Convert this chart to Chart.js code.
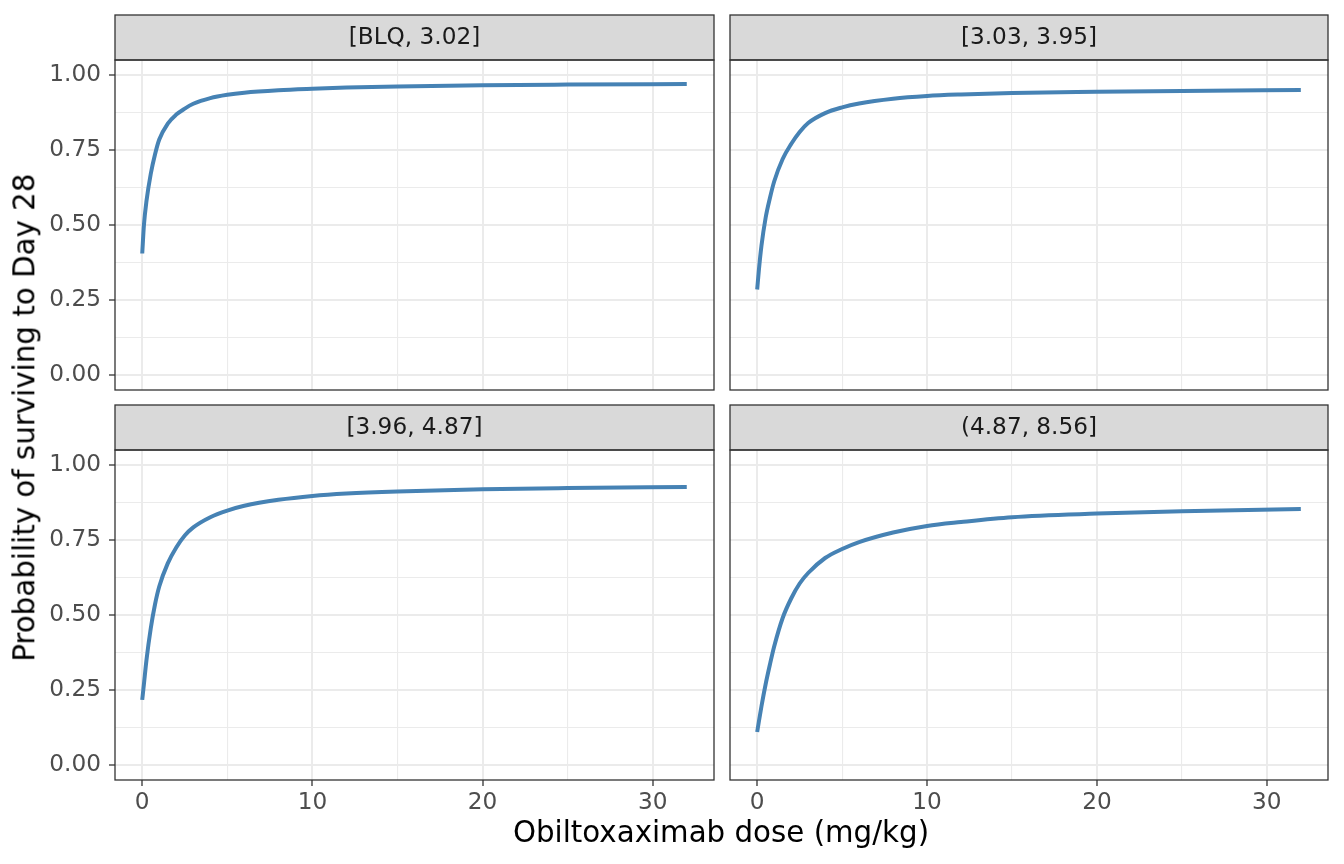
<!DOCTYPE html>
<html>
<head>
<meta charset="utf-8">
<script src="https://cdn.jsdelivr.net/npm/chart.js@4.4.1/dist/chart.umd.min.js"></script>
<style>
  body { margin: 0; background: #fff; width: 1344px; height: 864px; overflow: hidden; position: relative; font-family: "DejaVu Sans", sans-serif; }
  canvas { position: absolute; }
  .title { position: absolute; font-size: 29.3px; line-height: 29.3px; height: 29.3px; color: #000; white-space: nowrap; text-align: center; }
</style>
</head>
<body>
<canvas id="p1" width="722" height="397" style="left:0;top:0"></canvas>
<canvas id="p2" width="622" height="397" style="left:722px;top:0"></canvas>
<canvas id="p3" width="722" height="467" style="left:0;top:397px"></canvas>
<canvas id="p4" width="622" height="467" style="left:722px;top:397px"></canvas>
<div class="title" id="xTitle" style="left:421px;top:818px;width:600px">Obiltoxaximab dose (mg/kg)</div>
<div class="title" id="yTitle" style="left:-275px;top:403px;width:600px;transform:rotate(-90deg)">Probability of surviving to Day 28</div>
<script>
// ---- data
var doses = [0, 0.1, 0.25, 0.5, 0.75, 1, 1.5, 2, 2.5, 3, 4, 5, 6, 8, 10, 12, 15, 20, 25, 32];
var probBLQ = [0.405, 0.50, 0.58, 0.67, 0.735, 0.785, 0.838, 0.868, 0.888, 0.904, 0.923, 0.934, 0.941, 0.949, 0.954, 0.958, 0.962, 0.966, 0.968, 0.970];
var prob303 = [0.285, 0.35, 0.43, 0.525, 0.59, 0.645, 0.72, 0.77, 0.81, 0.84, 0.873, 0.892, 0.905, 0.921, 0.930, 0.935, 0.940, 0.944, 0.947, 0.950];
var prob396 = [0.217, 0.27, 0.35, 0.455, 0.535, 0.595, 0.672, 0.725, 0.765, 0.792, 0.826, 0.848, 0.864, 0.884, 0.897, 0.905, 0.912, 0.919, 0.923, 0.927];
var prob487 = [0.11, 0.145, 0.195, 0.27, 0.335, 0.395, 0.49, 0.555, 0.605, 0.64, 0.69, 0.72, 0.743, 0.775, 0.797, 0.810, 0.826, 0.838, 0.846, 0.853];
var stripLabels = ['[BLQ, 3.02]', '[3.03, 3.95]', '[3.96, 4.87]', '(4.87, 8.56]'];
var xMajor = [0, 10, 20, 30];
var xMinor = [5, 15, 25];
var yMajor = [0, 0.25, 0.5, 0.75, 1];
var yMinor = [0.125, 0.375, 0.625, 0.875];

var FONT = '"DejaVu Sans", sans-serif';

// strip + panel border, drawn around the chart area
var facetPlugin = {
    id: 'facet',
    afterDraw: function (chart, args, opts) {
        var ctx = chart.ctx, a = chart.chartArea;
        ctx.save();
        ctx.fillStyle = '#D9D9D9';
        ctx.fillRect(a.left, a.top - 45, a.right - a.left, 45);
        ctx.strokeStyle = '#333333';
        ctx.lineWidth = 1.3;
        ctx.strokeRect(a.left, a.top - 45, a.right - a.left, 45);
        ctx.strokeRect(a.left, a.top, a.right - a.left, a.bottom - a.top);
        ctx.fillStyle = '#1A1A1A';
        ctx.font = '23.2px ' + FONT;
        ctx.textAlign = 'center';
        ctx.textBaseline = 'middle';
        ctx.fillText(opts.label, (a.left + a.right) / 2, a.top - 22);
        ctx.restore();
    }
};

function isMajor(list, v) {
    return list.some(function (m) { return Math.abs(m - v) < 1e-9; });
}

function makePanel(id, values, label, showX, showY, sizes) {
    var xTicks = xMajor.concat(xMinor).sort(function (a, b) { return a - b; });
    var yTicks = yMajor.concat(yMinor).sort(function (a, b) { return a - b; });
    var points = doses.map(function (d, i) { return { x: d, y: values[i] }; });
    return new Chart(document.getElementById(id), {
        type: 'line',
        data: {
            datasets: [{
                data: points,
                borderColor: '#4682B4',
                borderWidth: 4,
                pointRadius: 0,
                cubicInterpolationMode: 'monotone',
                fill: false
            }]
        },
        options: {
            responsive: false,
            animation: false,
            events: [],
            layout: { padding: { top: sizes.top, right: sizes.right, left: 0, bottom: 0 } },
            plugins: { legend: { display: false }, tooltip: { enabled: false }, facet: { label: label } },
            scales: {
                x: {
                    type: 'linear',
                    min: -1.6,
                    max: 33.6,
                    border: { display: false },
                    afterBuildTicks: function (s) { s.ticks = xTicks.map(function (v) { return { value: v }; }); },
                    afterFit: function (s) {
                        s.height = sizes.bottom;
                        s.paddingLeft = 0; s.paddingRight = 0;
                    },
                    grid: {
                        color: '#EBEBEB',
                        lineWidth: function (c) { return isMajor(xMajor, c.tick.value) ? 2 : 1.1; },
                        drawTicks: showX,
                        tickLength: 6,
                        tickWidth: 1.3,
                        tickColor: function (c) { return isMajor(xMajor, c.tick.value) ? '#333333' : 'rgba(0,0,0,0)'; }
                    },
                    ticks: {
                        display: showX,
                        autoSkip: false,
                        maxRotation: 0,
                        padding: 3,
                        color: '#4D4D4D',
                        font: { family: FONT, size: 23.2 },
                        callback: function (v) { return isMajor(xMajor, v) ? String(v) : ''; }
                    }
                },
                y: {
                    type: 'linear',
                    min: -0.05,
                    max: 1.05,
                    border: { display: false },
                    afterBuildTicks: function (s) { s.ticks = yTicks.map(function (v) { return { value: v }; }); },
                    afterFit: function (s) {
                        s.width = sizes.left;
                        s.paddingTop = 0; s.paddingBottom = 0;
                    },
                    grid: {
                        color: '#EBEBEB',
                        lineWidth: function (c) { return isMajor(yMajor, c.tick.value) ? 2 : 1.1; },
                        drawTicks: showY,
                        tickLength: 6,
                        tickWidth: 1.3,
                        tickColor: function (c) { return isMajor(yMajor, c.tick.value) ? '#333333' : 'rgba(0,0,0,0)'; }
                    },
                    ticks: {
                        display: showY,
                        autoSkip: false,
                        padding: 8,
                        color: '#4D4D4D',
                        font: { family: FONT, size: 23.2 },
                        callback: function (v) { return isMajor(yMajor, v) ? v.toFixed(2) : ''; }
                    }
                }
            }
        },
        plugins: [facetPlugin]
    });
}

makePanel('p1', probBLQ, stripLabels[0], false, true, { top: 60, right: 8, left: 115, bottom: 7 });
makePanel('p2', prob303, stripLabels[1], false, false, { top: 60, right: 16, left: 8, bottom: 7 });
makePanel('p3', prob396, stripLabels[2], true, true, { top: 53, right: 8, left: 115, bottom: 84 });
makePanel('p4', prob487, stripLabels[3], true, false, { top: 53, right: 16, left: 8, bottom: 84 });
</script>
</body>
</html>
